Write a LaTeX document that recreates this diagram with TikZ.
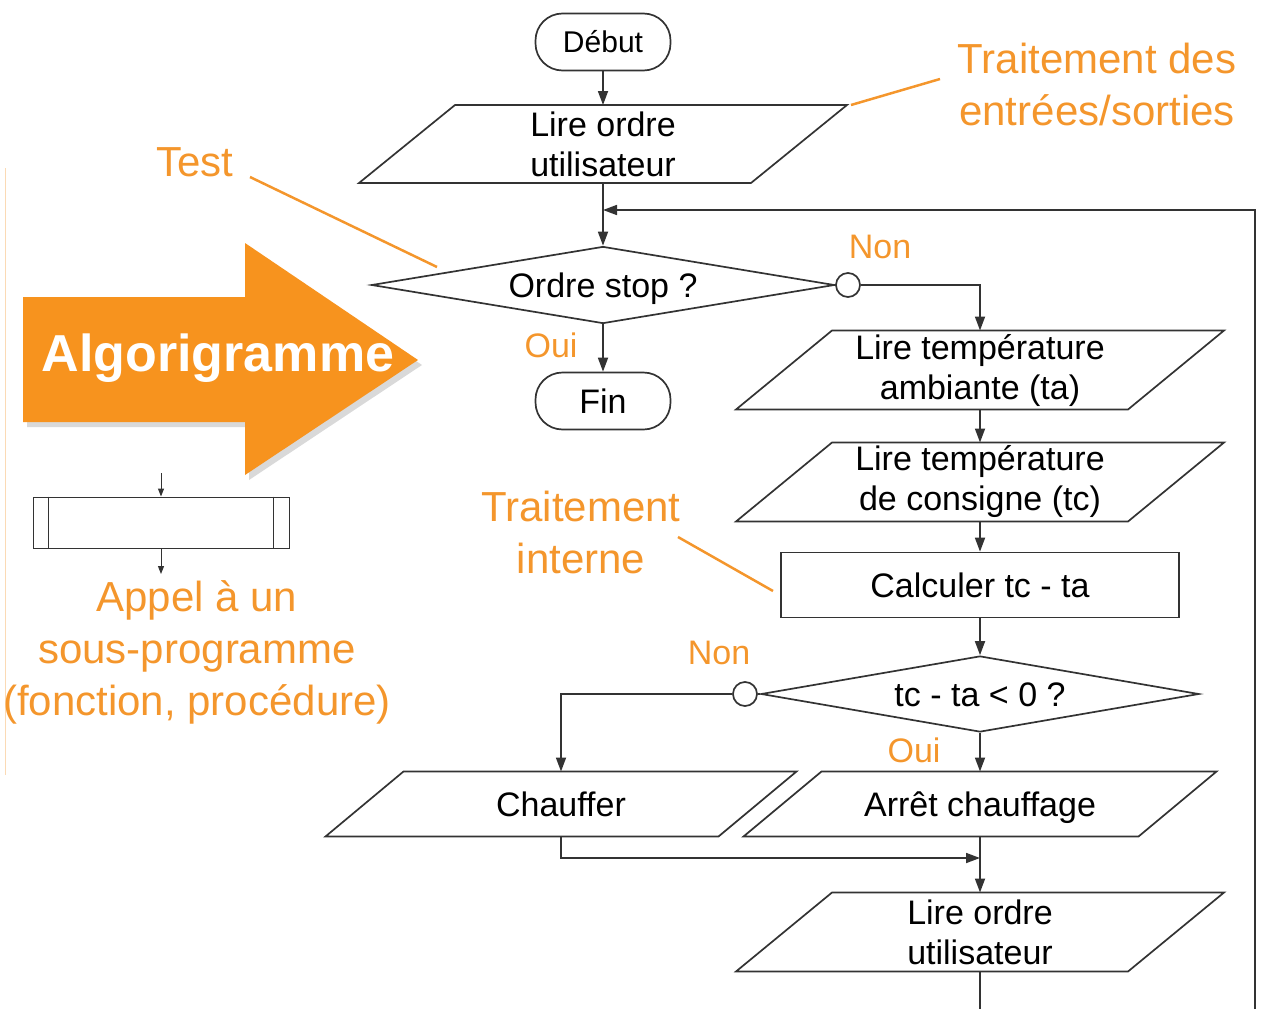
\documentclass[tikz,border=0pt]{standalone}
\usepackage{fontspec}
\setmainfont{Liberation Sans}
\usetikzlibrary{arrows.meta, positioning, shapes.geometric, shadows}
\colorlet{boxline}{black!80}
\definecolor{noteorange}{RGB}{244,150,44}
\definecolor{arroworange}{RGB}{247,147,30}
\tikzset{
  every node/.style={font=\fontsize{34}{40}\selectfont},
  oneline/.style={text height=24pt, text depth=0pt},
  flow/.style={line width=1.7pt, draw=boxline},
  term/.style={flow, rectangle, rounded corners=27pt, minimum width=135pt,
    minimum height=57pt, inner sep=0pt, font=\fontsize{30}{36}\selectfont,
    text height=21.5pt, text depth=0pt},
  iobox/.style={rectangle, inner sep=0pt, outer sep=0pt, align=center},
  procbox/.style={flow, rectangle, inner sep=0pt, oneline},
  testbox/.style={flow, diamond, inner sep=0pt, oneline},
  joint/.style={flow, circle, fill=white, minimum size=24pt, inner sep=0pt},
  answer/.style={text=noteorange},
  note/.style={text=noteorange, align=center, font=\fontsize{42}{52}\selectfont},
  noteline/.style={line width=2.5pt, draw=noteorange},
}
% parallelogram drawn round an iobox node
\newcommand{\ioframe}[2]{%
  \draw[flow] ([xshift=-#2pt]#1.south west) -- ([xshift=#2pt]#1.north west)
    -- ([xshift=#2pt]#1.north east) -- ([xshift=-#2pt]#1.south east) -- cycle;}
\begin{document}
\begin{tikzpicture}[x=1pt, y=-1pt, >={Triangle[length=14pt, width=10pt]}]
\useasboundingbox (0,0) rectangle (1263,1009);

% Main chain
\node[term] (debut) at (603,42) {Début};
\node[iobox, minimum width=392pt, minimum height=78pt] (ordre) at (603,144)
  {Lire ordre\\utilisateur};
\ioframe{ordre}{48}
\node[testbox, aspect=6, minimum width=463pt, minimum height=77pt] (stop) at (603,285)
  {Ordre stop ?};
\node[joint] (nonstop) at (848,285) {};
\node[term, font=\fontsize{34}{40}\selectfont, text height=24pt] (fin) at (603,401) {Fin};

% Right branch
\node[iobox, minimum width=392pt, minimum height=79pt] (ta) at (980,370)
  {Lire température\\ambiante (ta)};
\ioframe{ta}{48}
\node[iobox, minimum width=392pt, minimum height=79pt] (tc) at (980,482)
  {Lire température\\de consigne (tc)};
\ioframe{tc}{48}
\node[procbox, minimum width=398pt, minimum height=65pt] (calc) at (980,585)
  {Calculer tc - ta};
\node[testbox, aspect=5.76, minimum width=438pt, minimum height=76pt] (signe) at (980,694)
  {tc - ta < 0 ?};
\node[joint] (nonsigne) at (745,694) {};
\node[iobox, oneline, minimum width=393pt, minimum height=65pt] (chauffer) at (561,804)
  {Chauffer};
\ioframe{chauffer}{39}
\node[iobox, oneline, minimum width=395pt, minimum height=65pt] (arret) at (980,804)
  {Arrêt chauffage};
\ioframe{arret}{39}
\node[iobox, minimum width=392pt, minimum height=79pt] (relire) at (980,932)
  {Lire ordre\\utilisateur};
\ioframe{relire}{48}

% Answers
\node[answer] at (880,247) {Non};
\node[answer] at (551,345) {Oui};
\node[answer] at (719,653) {Non};
\node[answer] at (914,750) {Oui};

% Connectors
\coordinate (retour) at (603,210);
\coordinate (jonction) at (980,858);
\coordinate (basG) at (980,1009);
\coordinate (basD) at (1255,1009);
\draw[flow, ->] (debut) -- (ordre);
\draw[flow, ->] (ordre) -- (stop);
\draw[flow] (stop) -- (nonstop);
\draw[flow, ->] (stop) -- (fin);
\draw[flow, ->] (nonstop) -| (ta);
\draw[flow, ->] (ta) -- (tc);
\draw[flow, ->] (tc) -- (calc);
\draw[flow, ->] (calc) -- (signe);
\draw[flow] (signe) -- (nonsigne);
\draw[flow, ->] (nonsigne) -| (chauffer);
\draw[flow, ->] (signe) -- (arret);
\draw[flow, ->] (chauffer) |- (jonction);
\draw[flow, ->] (arret) -- (relire);
\draw[flow] (relire) -- (basG);
\draw[flow, ->] (basD) |- (retour);

% Big arrow
\fill[arroworange, drop shadow={shadow xshift=4pt, shadow yshift=-5pt, opacity=0.3}]
  (23,297) -- (245,297) -- (245,243) -- (418,360) -- (245,475) -- (245,422)
  -- (23,422) -- cycle;
\node[text=white, font=\fontsize{52}{60}\selectfont\bfseries] (algo) at (218,358)
  {Algorigramme};

% Sub-program symbol
\draw[line width=0.6pt, draw=noteorange!35] (5,168) -- (5,775);
\node[draw=boxline, line width=1pt, minimum width=256pt, minimum height=51pt,
  inner sep=0pt] (sousprog) at (161,522.5) {};
\draw[line width=1pt, boxline] ([xshift=16pt]sousprog.north west)
  -- ([xshift=16pt]sousprog.south west);
\draw[line width=1pt, boxline] ([xshift=-16pt]sousprog.north east)
  -- ([xshift=-16pt]sousprog.south east);
\coordinate (spin) at (161,473);
\coordinate (spout) at (161,574);
\draw[line width=1pt, boxline, -{Triangle[length=8pt, width=6pt]}] (spin) -- (sousprog);
\draw[line width=1pt, boxline, -{Triangle[length=8pt, width=6pt]}] (sousprog) -- (spout);

% Notes
\node[note] (noteio) at (1097,84) {Traitement des\\entrées/sorties};
\node[note] (notetest) at (195,162) {Test};
\node[note] (noteint) at (581,532) {Traitement\\interne};
\node[note] (notesp) at (197,652) {Appel à un\\sous-programme\\(fonction, procédure)};
\coordinate (pio) at (851,105);
\coordinate (ptest) at (437,267);
\coordinate (pint) at (773,591);
\draw[noteline] (pio) -- (940,79);
\draw[noteline] (250,177) -- (ptest);
\draw[noteline] (678,537) -- (pint);

\end{tikzpicture}
\end{document}
